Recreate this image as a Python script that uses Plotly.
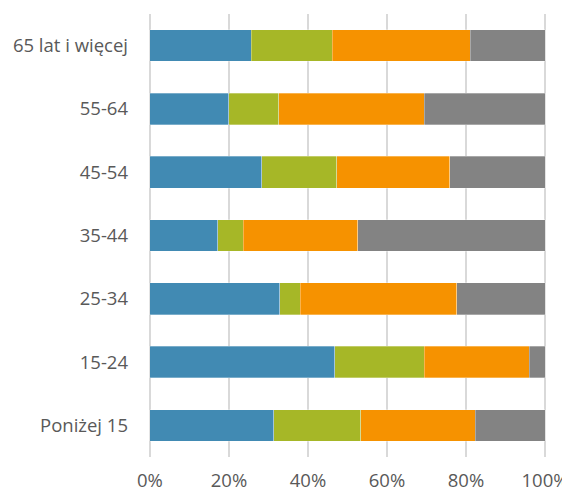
import plotly.graph_objects as go

categories = ["65 lat i więcej", "55-64", "45-54", "35-44", "25-34", "15-24", "Poniżej 15"]
series_names = ["Seria 1", "Seria 2", "Seria 3", "Seria 4"]
s1 = [25.6, 19.9, 28.3, 17.1, 32.8, 46.8, 31.3]
s2 = [20.5, 12.7, 19.0, 6.5, 5.2, 22.6, 22.1]
s3 = [35.0, 36.8, 28.6, 29.0, 39.7, 26.6, 28.9]
s4 = [18.9, 30.6, 24.1, 47.4, 22.3, 4.0, 17.7]
colors = ["#418AB3", "#A6B727", "#F69200", "#838383"]
tick_vals = [0, 20, 40, 60, 80, 100]
tick_text = ["0%", "20%", "40%", "60%", "80%", "100%"]

fig = go.Figure()
for name, vals, col in zip(series_names, [s1, s2, s3, s4], colors):
    fig.add_trace(go.Bar(
        y=categories, x=vals, name=name, orientation="h",
        marker=dict(color=col, line=dict(color="rgba(255,255,255,0.6)", width=0.5)),
    ))

fig.update_layout(
    width=562, height=483,
    margin=dict(l=140, r=23, t=6, b=34, autoexpand=False),
    barmode="stack", bargap=0.5,
    showlegend=False,
    plot_bgcolor="white", paper_bgcolor="white",
    font=dict(family="Open Sans, sans-serif", size=18.5, color="#595959"),
)
fig.update_xaxes(
    range=[-0.5, 100.5], tickvals=tick_vals, ticktext=tick_text,
    showgrid=True, gridcolor="#d9d9d9", gridwidth=1.5,
    zeroline=False, showline=False, ticks="",
    ticklabelstandoff=10, automargin=False,
)
fig.update_yaxes(
    autorange="reversed", showgrid=False, zeroline=False, showline=False,
    ticks="", ticklabelstandoff=19, automargin=False,
)

fig.write_html("out.html")
